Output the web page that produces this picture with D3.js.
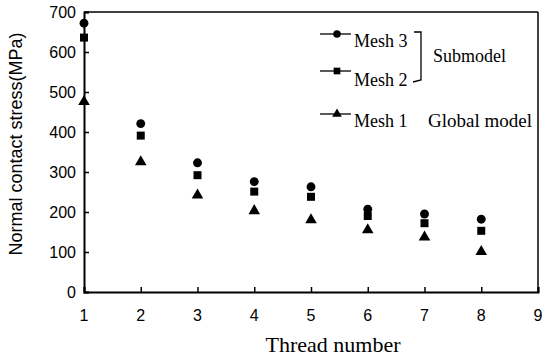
<!DOCTYPE html>
<html>
<head>
<meta charset="utf-8">
<script src="https://cdn.jsdelivr.net/npm/d3@7"></script>
<style>
  body { margin: 0; background: #fff; }
  svg { display: block; }
  .tick-label { font-family: "Liberation Sans", Arial, sans-serif; font-size: 16px; fill: #000; }
  .serif { font-family: "Liberation Serif", "Times New Roman", serif; fill: #000; }
</style>
</head>
<body>
<svg id="chart" width="554" height="361"></svg>
<script>
// values
const threads = [1, 2, 3, 4, 5, 6, 7, 8];
const mesh3 = [672, 421, 323, 276, 263, 207, 195, 182];
const mesh2 = [636, 391, 292, 251, 238, 190, 172, 153];
const mesh1 = [476, 325, 242, 203, 180, 155, 137, 101];
const xTicks = [1, 2, 3, 4, 5, 6, 7, 8, 9];
const yTicks = [0, 100, 200, 300, 400, 500, 600, 700];

const series = [
    {name: "Mesh 3", values: mesh3, shape: d3.symbolCircle, size: 62},
    {name: "Mesh 2", values: mesh2, shape: d3.symbolSquare, size: 64},
    {name: "Mesh 1", values: mesh1, shape: d3.symbolTriangle, size: 58}
];

const svg = d3.select("#chart");
const plotLeft = 84, plotRight = 538, plotTop = 12, plotBottom = 292;

const x = d3.scaleLinear().domain([1, 9]).range([plotLeft, plotRight]);
const y = d3.scaleLinear().domain([0, 700]).range([plotBottom, plotTop]);

// frame: top and right thinner
svg.append("line").attr("x1", plotLeft).attr("x2", plotRight).attr("y1", plotTop).attr("y2", plotTop)
    .attr("stroke", "#000").attr("stroke-width", 1.3);
svg.append("line").attr("x1", plotRight).attr("x2", plotRight).attr("y1", plotTop).attr("y2", plotBottom)
    .attr("stroke", "#000").attr("stroke-width", 1.5);

// axes with inward ticks
const xAxis = svg.append("g").attr("transform", `translate(0,${plotBottom})`)
    .call(d3.axisBottom(x).tickValues(xTicks).tickSize(-5).tickFormat(""));
const yAxis = svg.append("g").attr("transform", `translate(${plotLeft},0)`)
    .call(d3.axisLeft(y).tickValues(yTicks).tickSize(-5).tickFormat(""));
[xAxis, yAxis].forEach(a => {
    a.select(".domain").attr("stroke", "#000").attr("stroke-width", 2);
    a.selectAll(".tick line").attr("stroke", "#000").attr("stroke-width", 1.5);
});

svg.append("g").selectAll("text").data(xTicks).enter().append("text")
    .attr("class", "tick-label")
    .attr("x", d => x(d)).attr("y", plotBottom + 29)
    .attr("text-anchor", "middle")
    .text(d => d);

svg.append("g").selectAll("text").data(yTicks).enter().append("text")
    .attr("class", "tick-label")
    .attr("x", plotLeft - 8).attr("y", d => y(d) + 6)
    .attr("text-anchor", "end")
    .text(d => d);

// axis titles
svg.append("text").attr("class", "serif")
    .attr("x", 333).attr("y", 352)
    .attr("text-anchor", "middle")
    .style("font-size", "22px")
    .text("Thread number");

svg.append("text").attr("class", "tick-label")
    .attr("transform", "translate(22,144) rotate(-90)")
    .attr("text-anchor", "middle")
    .style("font-size", "18px")
    .text("Normal contact stress(MPa)");

// markers
const sym = d3.symbol();
series.forEach(s => {
    svg.append("g").selectAll("path").data(s.values).enter().append("path")
        .attr("transform", (d, i) => `translate(${x(threads[i])},${y(d)})`)
        .attr("d", sym.type(s.shape).size(s.size)())
        .attr("fill", "#000");
});

// legend
const legendRows = [
    {s: series[0], ly: 34, ty: 47},
    {s: series[1], ly: 71, ty: 86},
    {s: series[2], ly: 114, ty: 127}
];
legendRows.forEach(r => {
    svg.append("line").attr("x1", 320).attr("x2", 351).attr("y1", r.ly).attr("y2", r.ly)
        .attr("stroke", "#000").attr("stroke-width", 1.3);
    svg.append("path")
        .attr("transform", `translate(337,${r.ly})`)
        .attr("d", sym.type(r.s.shape).size(r.s.size * 0.7)())
        .attr("fill", "#000");
    svg.append("text").attr("class", "serif")
        .attr("x", 354).attr("y", r.ty)
        .style("font-size", "18px")
        .text(r.s.name);
});

// bracket for the submodel group
svg.append("path")
    .attr("d", "M414,32 L421,32 L421,80 L413,82")
    .attr("fill", "none").attr("stroke", "#000").attr("stroke-width", 1.3);
svg.append("text").attr("class", "serif")
    .attr("x", 433).attr("y", 62)
    .style("font-size", "18px")
    .text("Submodel");
svg.append("text").attr("class", "serif")
    .attr("x", 428).attr("y", 127)
    .style("font-size", "19px")
    .text("Global model");
</script>
</body>
</html>
